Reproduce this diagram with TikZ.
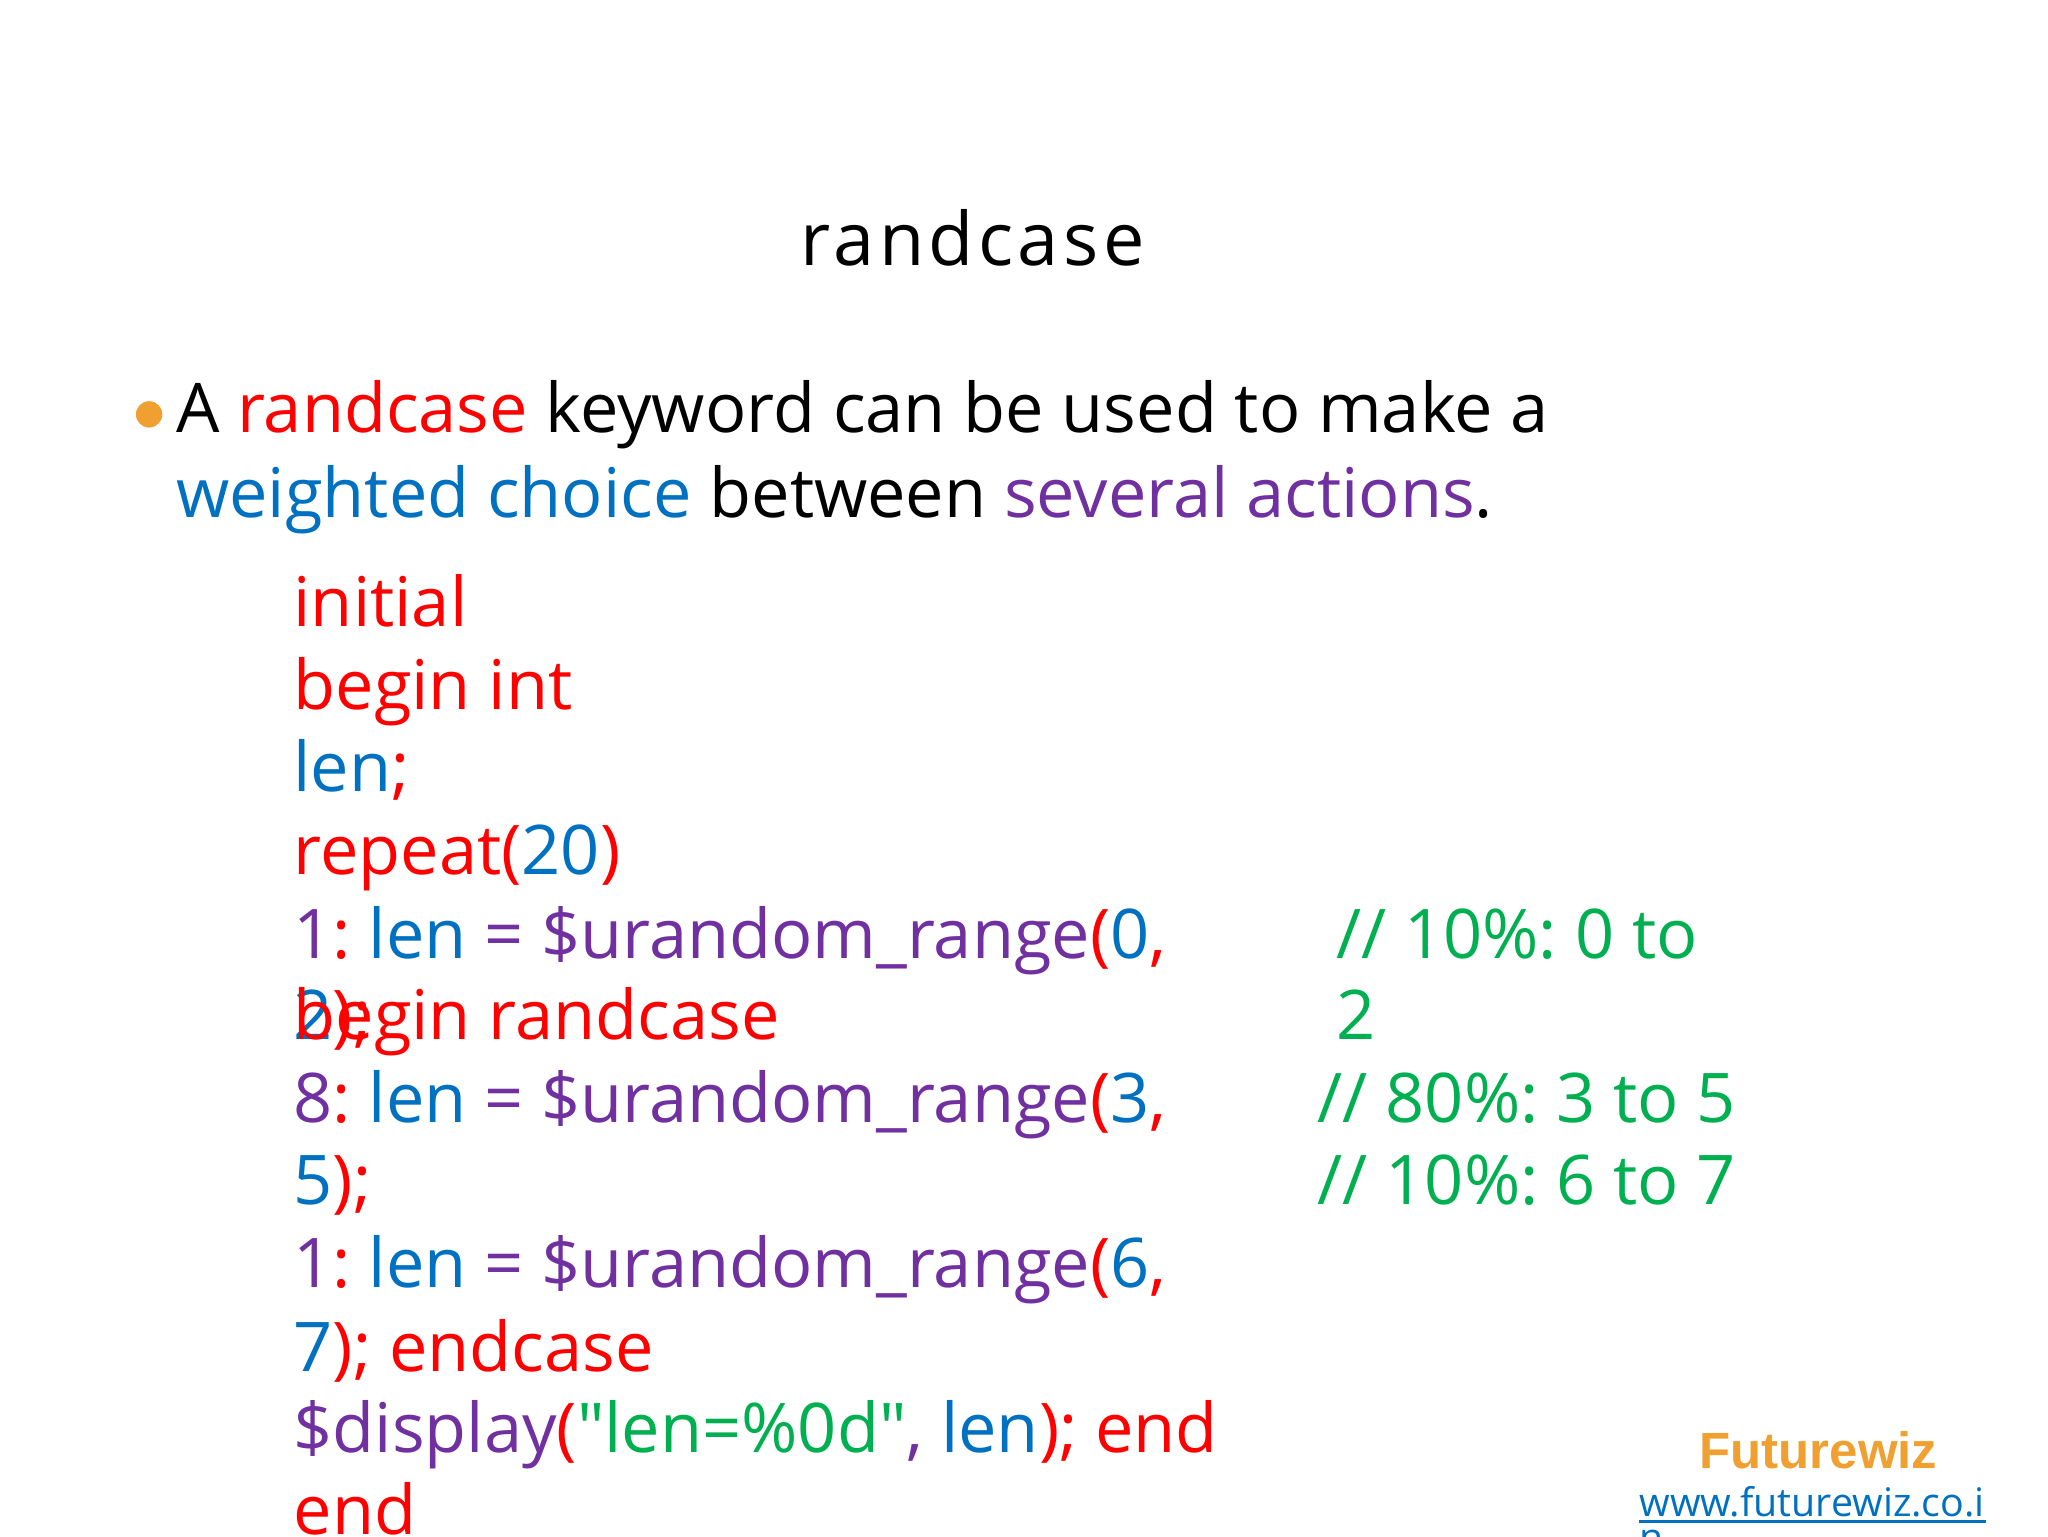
\documentclass[tikz,border=0pt]{standalone}
\usepackage{fontspec}
\usetikzlibrary{calc}
\setmainfont{Open Sans}
\newfontfamily\osplain{Open Sans}
\newfontfamily\lsans{Liberation Sans}
\definecolor{cr}{HTML}{FF0000}
\definecolor{cb}{HTML}{0070C0}
\definecolor{cp}{HTML}{7030A0}
\definecolor{cg}{HTML}{00B050}
\definecolor{co}{HTML}{F0A030}
\frenchspacing
\begin{document}
\begin{tikzpicture}[x=0.013196cm,y=-0.013196cm,
  txt/.style={anchor=base west,inner sep=0pt,font=\fontsize{19.5}{24}\selectfont},
  code/.style={txt}]
\useasboundingbox (0,0) rectangle (1552,1164);
\clip (0,0) rectangle (1552,1164);
\node[anchor=base,inner sep=0pt,font=\fontsize{21}{24}\selectfont\addfontfeature{LetterSpace=6}] (title) at (737,201) {randcase};
\fill[co] (113,314) circle (10);
\node[txt] (b1) at (133,328) {A \textcolor{cr}{randcase} keyword can be used to make a};
\node[txt] (b2) at (133,392) {\textcolor{cb}{weighted choice} between \textcolor{cp}{several actions}.};
\node[code] (l1) at (222,475) {\color{cr}initial};
\node[code] (l2) at (222,538) {\color{cr}begin int};
\node[code] (l3) at (222,600) {\textcolor{cb}{len}\textcolor{cr}{;}};
\node[code] (l4) at (222,663) {\textcolor{cr}{repeat(}\textcolor{cb}{20}\textcolor{cr}{)}};
\node[code] (l5) at (222,726) {\textcolor{cp}{1}\textcolor{cr}{:} \textcolor{cb}{len} \textcolor{cp}{= \$urandom\_range}\textcolor{cr}{(}\textcolor{cb}{0}\textcolor{cr}{,}};
\node[code] (l6a) at (222,788) {\textcolor{cb}{2}\textcolor{cr}{);}};
\node[code] (l6b) at (222,788) {\textcolor{cr}{begin randcase}};
\node[code] (l7) at (222,851) {\textcolor{cp}{8}\textcolor{cr}{:} \textcolor{cb}{len} \textcolor{cp}{= \$urandom\_range}\textcolor{cr}{(}\textcolor{cb}{3}\textcolor{cr}{,}};
\node[code] (l8) at (222,913) {\textcolor{cb}{5}\textcolor{cr}{);}};
\node[code] (l9) at (222,976) {\textcolor{cp}{1}\textcolor{cr}{:} \textcolor{cb}{len} \textcolor{cp}{= \$urandom\_range}\textcolor{cr}{(}\textcolor{cb}{6}\textcolor{cr}{,}};
\node[code] (l10) at (222,1039) {\textcolor{cb}{7}\textcolor{cr}{); endcase}};
\node[code] (l11) at (222,1101) {\textcolor{cp}{\$display}\textcolor{cr}{(}\textcolor{cg}{{\osplain"}len=\%0d{\osplain"}}\textcolor{cp}{,} \textcolor{cb}{len}\textcolor{cr}{); end}};
\node[code] (l12) at (222,1163) {\color{cr}end};
\node[code,text=cg] (c1) at (1012,726) {// 10\%: 0 to};
\node[code,text=cg] (c2) at (1012,788) {2};
\node[code,text=cg] (c3) at (998,851) {// 80\%: 3 to 5};
\node[code,text=cg] (c4) at (998,913) {// 10\%: 6 to 7};
\node[anchor=base,inner sep=0pt,text=co,font=\lsans\bfseries\fontsize{14.5}{16}\selectfont] (fw) at (1378,1113) {Futurewiz};
\node[anchor=base west,inner sep=0pt,text=cb,font=\fontsize{11.2}{14}\selectfont] (url) at (1242,1149) {www.futurewiz.co.i};
\draw[cb,line width=0.6pt] ($(url.base west)+(0,4)$) -- ($(url.base east)+(0,4)$);
\node[anchor=base west,inner sep=0pt,text=cb,font=\fontsize{11.2}{14}\selectfont] (url2) at (1242,1176) {n};
\end{tikzpicture}
\end{document}
